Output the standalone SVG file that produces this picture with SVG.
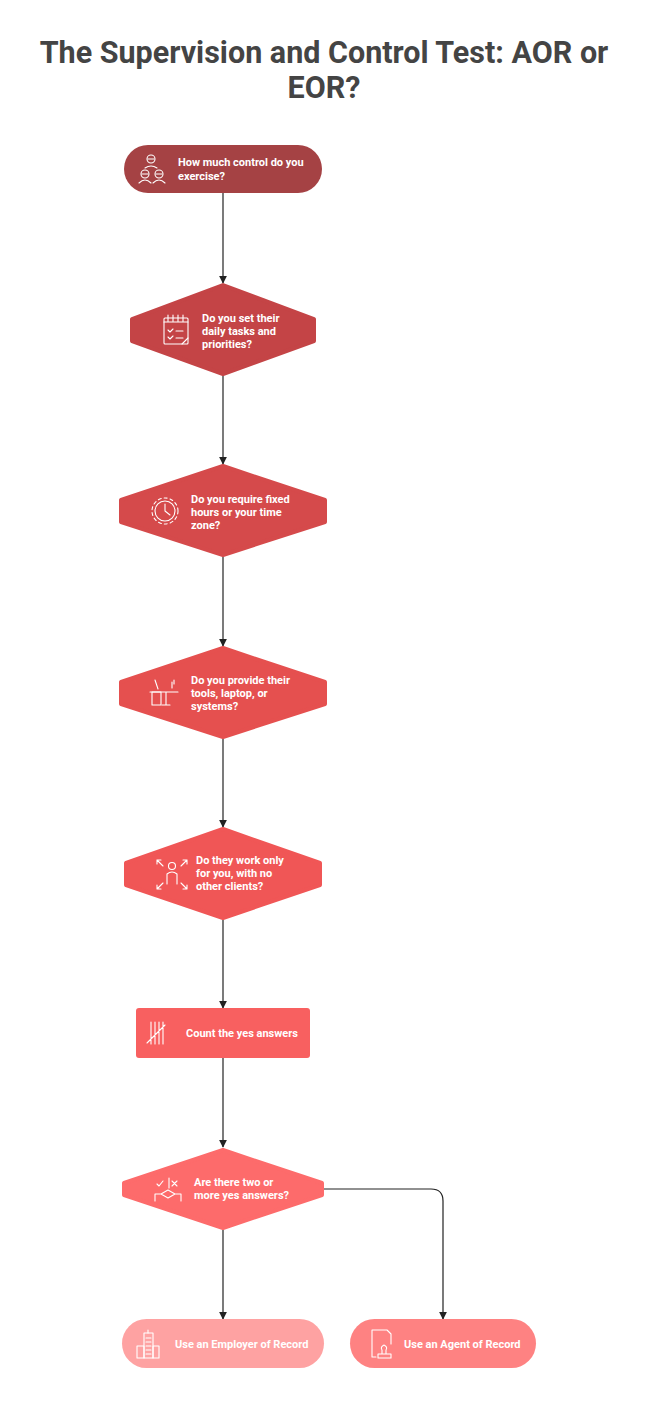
<svg xmlns="http://www.w3.org/2000/svg" width="649" height="1411" viewBox="0 0 649 1411">
<defs>
<marker id="ah" viewBox="0 0 10 10" refX="9" refY="5" markerWidth="8" markerHeight="8" markerUnits="userSpaceOnUse" orient="auto"><path d="M0,0L10,5L0,10z" fill="#222"/></marker>
<style>
.t{font-family:Roboto,"Liberation Sans",sans-serif;font-weight:bold;font-size:11px;fill:#fff}
.title{font-family:Roboto,"Liberation Sans",sans-serif;font-weight:bold;font-size:30.5px;fill:#444;text-anchor:middle}
.ic{fill:none;stroke:#fff;stroke-width:1.1;stroke-linecap:round;stroke-linejoin:round}
.c{fill:none;stroke:#222;stroke-width:1.2;marker-end:url(#ah)}
.sh{stroke-linejoin:round;stroke-width:4}
</style>
</defs>
<rect width="649" height="1411" fill="#fff"/>
<text class="title" x="324" y="63">The Supervision and Control Test: AOR or</text>
<text class="title" x="324" y="98">EOR?</text>
<g id="connectors">
<path class="c" d="M223,193V283"/>
<path class="c" d="M223,376V464"/>
<path class="c" d="M223,557V646"/>
<path class="c" d="M223,739V827"/>
<path class="c" d="M223,920V1008"/>
<path class="c" d="M223,1058V1147"/>
<path class="c" d="M223,1230V1319"/>
<path class="c" d="M324,1189H431Q443,1189 443,1201V1319"/>
</g>
<g id="n1">
<rect x="124" y="145" width="198" height="48" rx="24" fill="#a54244"/>
<g class="ic"><circle cx="151" cy="159" r="4"/><circle cx="145" cy="174" r="4"/><circle cx="159" cy="174" r="4"/><path d="M148,159h6M142,174h6M156,174h6M145,168q6,-4 12,0M139,183q6,-6 12,0M153,183q6,-6 12,0"/></g>
<text class="t" x="178" y="166">How much control do you</text>
<text class="t" x="178" y="180">exercise?</text>
</g>
<g id="n2">
<polygon class="sh" points="223,285 314,319 314,341 223,374 132,341 132,319" fill="#c44446" stroke="#c44446"/>
<g class="ic"><rect x="164" y="318" width="24" height="26" rx="1"/><path d="M164,322h24M168,315v6M173,315v6M178,315v6M183,315v6M168,330l2,2 3,-3M176,331h7M168,337l2,2 3,-3M176,338h7M182,344l6,-6"/></g>
<text class="t" x="202" y="322">Do you set their</text>
<text class="t" x="202" y="335">daily tasks and</text>
<text class="t" x="202" y="348">priorities?</text>
</g>
<g id="n3">
<polygon class="sh" points="223,466 325,500 325,522 223,555 121,522 121,500" fill="#d54a4b" stroke="#d54a4b"/>
<g class="ic"><circle cx="165" cy="511" r="10"/><circle cx="165" cy="511" r="13" stroke-dasharray="3 3"/><path d="M165,504v7l5,4"/></g>
<text class="t" x="191" y="503">Do you require fixed</text>
<text class="t" x="191" y="516">hours or your time</text>
<text class="t" x="191" y="529">zone?</text>
</g>
<g id="n4">
<polygon class="sh" points="223,648 325,682 325,704 223,737 121,704 121,682" fill="#e5504f" stroke="#e5504f"/>
<g class="ic"><rect x="152" y="692" width="9" height="13"/><path d="M150,692h28M166,692v13M162,705h8M155,680l3,9M172,682v6M174,680v4"/></g>
<text class="t" x="191" y="684">Do you provide their</text>
<text class="t" x="191" y="697">tools, laptop, or</text>
<text class="t" x="191" y="710">systems?</text>
</g>
<g id="n5">
<polygon class="sh" points="223,829 320,863 320,885 223,918 126,885 126,863" fill="#f05656" stroke="#f05656"/>
<g class="ic"><circle cx="172" cy="866" r="3.5"/><path d="M167,884v-10q5,-4 10,0v10M157,860l6,6M157,860h4M157,860v4M187,860l-6,6M187,860h-4M187,860v4M157,889l6,-6M157,889h4M157,889v-4M187,889l-6,-6M187,889h-4M187,889v-4"/></g>
<text class="t" x="196" y="864">Do they work only</text>
<text class="t" x="196" y="877">for you, with no</text>
<text class="t" x="196" y="890">other clients?</text>
</g>
<g id="n6">
<rect x="136" y="1008" width="174" height="50" rx="3" fill="#f86060"/>
<g class="ic"><path d="M151,1022v22M155,1022v22M159,1022v22M163,1022v22M147,1043l18,-18"/></g>
<text class="t" x="186" y="1037">Count the yes answers</text>
</g>
<g id="n7">
<polygon class="sh" points="223,1150 322,1183 322,1195 223,1228 124,1195 124,1183" fill="#fd6b6b" stroke="#fd6b6b"/>
<g class="ic"><path d="M157,1184l2,2 4,-5M169,1178v10M172,1181l5,5M177,1181l-5,5M155,1201v-7h6l7,-4 7,4h6v7M161,1194l7,4 7,-4"/></g>
<text class="t" x="194" y="1186">Are there two or</text>
<text class="t" x="194" y="1199">more yes answers?</text>
</g>
<g id="n8">
<rect x="122" y="1319" width="202" height="49" rx="24.5" fill="#fea2a2"/>
<g class="ic"><rect x="144" y="1333" width="9" height="25"/><rect x="137" y="1346" width="7" height="12"/><rect x="153" y="1346" width="6" height="12"/><path d="M146,1338h5M146,1342h5M146,1346h5M146,1350h5M146,1354h5M148,1333v-3"/></g>
<text class="t" x="175" y="1348">Use an Employer of Record</text>
</g>
<g id="n9">
<rect x="350" y="1319" width="186" height="49" rx="24.5" fill="#fe8282"/>
<g class="ic"><path d="M372,1357v-27h15l4,4v10M372,1357h4M378,1358h13v-4h-13zM382,1354v-4q-2,-3 2,-5q4,2 2,5v4"/></g>
<text class="t" x="404" y="1348">Use an Agent of Record</text>
</g>
</svg>
